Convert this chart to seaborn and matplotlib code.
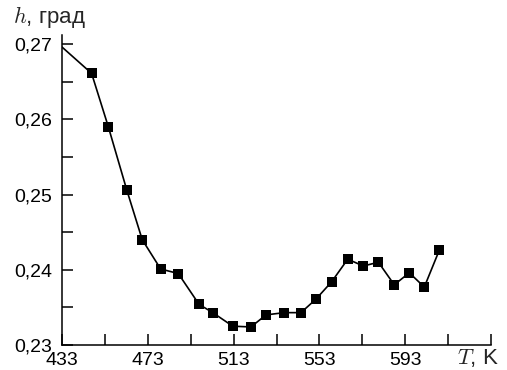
import numpy as np
import matplotlib
matplotlib.use("Agg")
import matplotlib.pyplot as plt
import seaborn as sns

# values
temps = [433, 446.8, 454.6, 463.2, 470.4, 479.0, 487.2, 496.9, 503.3, 512.6,
         521.1, 528.1, 536.6, 544.4, 551.4, 558.7, 566.2, 573.5, 580.5, 587.9,
         594.9, 601.9, 608.9]
h_vals = [0.2696, 0.2661, 0.2590, 0.2506, 0.2440, 0.2401, 0.2395, 0.2354,
          0.2343, 0.2325, 0.2324, 0.2340, 0.2343, 0.2343, 0.2361, 0.2384,
          0.2414, 0.2405, 0.2410, 0.2380, 0.2396, 0.2377, 0.2426]

x_major = [433, 473, 513, 553, 593, 633]
x_labels = ["433", "473", "513", "553", "593", ""]
x_minor = [453, 493, 533, 573, 613]
y_major = [0.23, 0.24, 0.25, 0.26, 0.27]
y_labels = ["0,23", "0,24", "0,25", "0,26", "0,27"]
y_minor = [0.235, 0.245, 0.255, 0.265]

sns.set_theme(style="ticks")
plt.rcParams["font.family"] = ["Liberation Sans", "DejaVu Sans"]
plt.rcParams["mathtext.fontset"] = "cm"

fig = plt.figure(figsize=(5.07, 3.70), dpi=100)
ax = fig.add_axes([62 / 507, 25 / 370, (491 - 62) / 507, (345 - 35) / 370])

sns.lineplot(
    x=temps, y=h_vals, ax=ax, sort=False,
    color="black", linewidth=1.2,
    marker="s", markersize=7.5, markeredgewidth=0,
    markevery=list(range(1, len(temps)))
)

ax.set_xlim(433, 633)
ax.set_ylim(0.23, 0.2712)

ax.set_xticks(x_major)
ax.set_xticklabels(x_labels)
ax.set_xticks(x_minor, minor=True)
ax.set_yticks(y_major)
ax.set_yticklabels(y_labels)
ax.set_yticks(y_minor, minor=True)

ax.tick_params(which="both", direction="in", length=8, width=1.1,
               color="black", labelsize=14, labelcolor="black")
ax.tick_params(axis="y", which="both", pad=7)
ax.tick_params(axis="x", which="both", pad=5)

sns.despine(ax=ax)
for s in ["left", "bottom"]:
    ax.spines[s].set_linewidth(1.1)
    ax.spines[s].set_color("black")

ax.set_xlabel("")
ax.set_ylabel("")

fig.text(13 / 507, (370 - 23) / 370, "$h$, град", fontsize=16,
         ha="left", va="baseline")
fig.text(499 / 507, (370 - 364) / 370, "$T$, K", fontsize=16,
         ha="right", va="baseline")

fig.savefig("out.png", dpi=100)
